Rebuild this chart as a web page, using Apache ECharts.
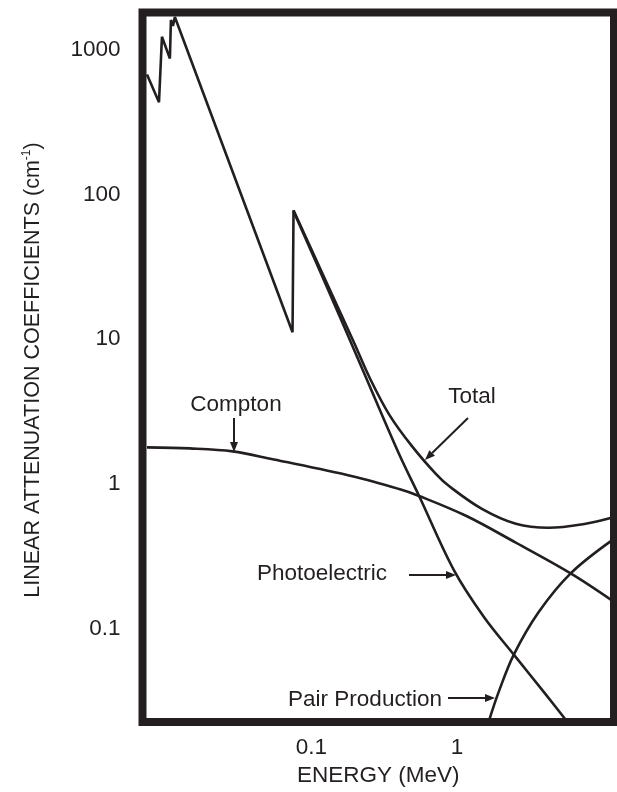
<!DOCTYPE html>
<html><head><meta charset="utf-8">
<script src="https://cdn.jsdelivr.net/npm/echarts@6/dist/echarts.min.js"></script>
<style>html,body{margin:0;padding:0;background:#fff}#c{width:617px;height:792px}</style>
</head><body><div id="c"></div>
<script>
// ---- data ----
const xTickLabels = [0.1, 1];
const yTickLabels = [1000, 100, 10, 1, 0.1];

// Total attenuation, absorption-edge (saw-tooth) part
const totalEdgeEnergy = [0.00741, 0.00896, 0.00939, 0.01065, 0.01082, 0.01117, 0.01152, 0.0741, 0.0753];
const totalEdgeValues = [674, 434, 1227, 868, 1605, 1460, 1683, 11.17, 77.7];

// Total attenuation, smooth part above the K edge
const totalEnergy = [0.0753, 0.1328, 0.1970, 0.2496, 0.3421, 0.4918, 0.7181, 0.8815, 1.483, 2.536, 4.267, 7.648, 11.53];
const totalValues = [77.7, 22.35, 9.39, 5.49, 3.02, 1.82, 1.171, 0.969, 0.674, 0.532, 0.4995, 0.532, 0.585];

// Photoelectric
const photoEnergy = [0.0753, 0.1328, 0.2236, 0.4006, 0.549, 0.954, 1.531, 2.457, 4.07, 5.67];
const photoValues = [76.5, 21.0, 6.23, 1.605, 0.828, 0.2535, 0.1208, 0.0664, 0.0353, 0.0231];

// Compton
const comptonEnergy = [0.00741, 0.0146, 0.02877, 0.0541, 0.1909, 0.4006, 0.549, 1.152, 2.536, 6.04, 11.53];
const comptonValues = [1.792, 1.764, 1.683, 1.483, 1.134, 0.924, 0.828, 0.604, 0.394, 0.2418, 0.158];

// Pair production
const pairEnergy = [1.656, 1.94, 2.457, 3.643, 6.04, 11.53];
const pairValues = [0.0231, 0.037, 0.0664, 0.1307, 0.2418, 0.407];

// ---- chart ----
const INK = '#231f20';
const FONT = '"Liberation Sans", Arial, Helvetica, sans-serif';
const LABEL_SIZE = 22.5;
const zip = (xs, ys) => xs.map((x, i) => [x, ys[i]]);
const fmt = (v, list) => {
  const t = list.find(t => Math.abs(Math.log10(v) - Math.log10(t)) < 1e-6);
  return t === undefined ? '' : String(t);
};

const chart = echarts.init(document.getElementById('c'), null, {renderer: 'canvas'});

function lineSeries(name, data, smooth) {
  return {
    name, type: 'line', data, smooth, symbol: 'none', silent: true,
    lineStyle: {color: INK, width: 2.6}, z: 3
  };
}

function arrow(x1, y1, x2, y2) {
  const ang = Math.atan2(y2 - y1, x2 - x1);
  const L = 10, W = 4;
  const bx = x2 - L * Math.cos(ang), by = y2 - L * Math.sin(ang);
  const px = -Math.sin(ang) * W, py = Math.cos(ang) * W;
  return [
    {type: 'line', shape: {x1, y1, x2: bx, y2: by}, style: {stroke: INK, lineWidth: 2}, z: 10},
    {type: 'polygon', shape: {points: [[x2, y2], [bx + px, by + py], [bx - px, by - py]]},
     style: {fill: INK}, z: 10}
  ];
}

function label(text, x, y) {
  return {type: 'text', x, y, z: 10,
    style: {text, fill: INK, font: LABEL_SIZE + 'px ' + FONT, align: 'center', verticalAlign: 'middle'}};
}

const option = {
  animation: false,
  backgroundColor: '#fff',
  grid: {left: 142.5, right: 1.5, top: 12.5, bottom: 64, show: true,
         borderColor: INK, borderWidth: 8, backgroundColor: 'transparent'},
  xAxis: {
    type: 'log', logBase: 10, min: 0.006902, max: 11.99,
    axisLine: {show: false}, axisTick: {show: false}, splitLine: {show: false},
    minorTick: {show: false}, minorSplitLine: {show: false},
    axisLabel: {margin: 14, color: INK, fontSize: LABEL_SIZE, fontFamily: FONT,
                showMinLabel: true, showMaxLabel: true,
                formatter: v => fmt(v, xTickLabels)},
    name: 'ENERGY (MeV)', nameLocation: 'middle', nameGap: 41,
    nameTextStyle: {color: INK, fontSize: LABEL_SIZE, fontFamily: FONT}
  },
  yAxis: {
    type: 'log', logBase: 10, min: 0.02271, max: 1806,
    axisLine: {show: false}, axisTick: {show: false}, splitLine: {show: false},
    minorTick: {show: false}, minorSplitLine: {show: false},
    axisLabel: {margin: 22, color: INK, fontSize: LABEL_SIZE, fontFamily: FONT,
                formatter: v => fmt(v, yTickLabels)}
  },
  series: [
    lineSeries('Total', zip(totalEdgeEnergy, totalEdgeValues), false),
    lineSeries('Total', zip(totalEnergy, totalValues), 0.35),
    lineSeries('Photoelectric', zip(photoEnergy, photoValues), 0.35),
    lineSeries('Compton', zip(comptonEnergy, comptonValues), 0.35),
    lineSeries('Pair Production', zip(pairEnergy, pairValues), 0.35)
  ],
  graphic: [
    {type: 'text', x: 33, y: 370, rotation: Math.PI / 2, z: 10,
     style: {text: '{a|LINEAR ATTENUATION COEFFICIENTS (cm}{s|-1}{a|)}',
             align: 'center', verticalAlign: 'middle',
             rich: {a: {fontSize: 21.5, fontFamily: FONT, fill: INK, lineHeight: 26},
                    s: {fontSize: 12, fontFamily: FONT, fill: INK, lineHeight: 26, padding: [0, 0, 13, 0]}}}},
    label('Compton', 236, 405),
    label('Total', 472, 397),
    label('Photoelectric', 322, 574),
    label('Pair Production', 365, 700),
    ...arrow(234, 418, 234, 452),
    ...arrow(468, 418, 425, 460),
    ...arrow(409, 575, 456, 575),
    ...arrow(448, 698, 495, 698)
  ]
};
chart.setOption(option);
</script>
</body></html>
